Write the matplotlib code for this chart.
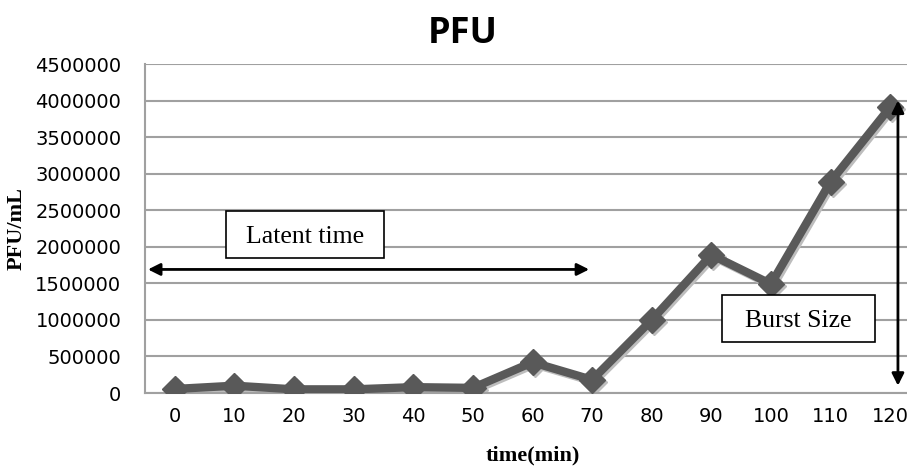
import matplotlib.pyplot as plt
from matplotlib.patches import Rectangle
from matplotlib.transforms import offset_copy

# Data
times = [0, 10, 20, 30, 40, 50, 60, 70, 80, 90, 100, 110, 120]
pfu = [55000, 100000, 50000, 50000, 80000, 70000, 420000, 180000,
       1000000, 1890000, 1490000, 2890000, 3910000]
y_ticks = list(range(0, 4500001, 500000))

fig = plt.figure(figsize=(9.07, 4.69), dpi=100)
ax = fig.add_axes([145 / 907, 76 / 469, 775 / 907, 329 / 469])

pos = list(range(len(times)))

# soft shadow under the series, like the Excel default
shadow = offset_copy(ax.transData, fig=fig, x=2, y=-2, units="dots")
ax.plot(pos, pfu, color="#bdbdbd", lw=6, marker="D", markersize=13,
        transform=shadow, zorder=2)
ax.plot(pos, pfu, color="#595959", lw=6, marker="D", markersize=13, zorder=3)

ax.set_xlim(-0.5, 12.5)
ax.set_ylim(0, 4500000)
ax.set_xticks(pos)
ax.set_xticklabels([str(t) for t in times])
ax.set_yticks(y_ticks)
ax.set_yticklabels([str(v) for v in y_ticks])
ax.tick_params(axis="both", length=0, labelsize=14, colors="black")
ax.tick_params(axis="y", pad=17)
ax.tick_params(axis="x", pad=10)

ax.grid(axis="y", color="#a0a0a0", lw=1.5)
ax.set_axisbelow(True)
for s in ["top", "right"]:
    ax.spines[s].set_visible(False)
ax.spines["left"].set_color("#a0a0a0")
ax.spines["left"].set_linewidth(1.5)
ax.spines["bottom"].set_color("#a0a0a0")
ax.spines["bottom"].set_linewidth(1.5)

fig.text(463 / 907, 1 - 34 / 469, "PFU", ha="center", va="center",
         fontsize=26, fontweight="bold", family="Open Sans")
ax.set_xlabel("time(min)", fontsize=16, fontweight="bold",
              family="Liberation Serif", labelpad=14)
ax.set_ylabel("PFU/mL", fontsize=16, fontweight="bold",
              family="Liberation Serif", labelpad=6)

# Latent time arrow and box
ax.annotate("", xy=(-0.45, 1690000), xytext=(6.95, 1690000),
            arrowprops=dict(arrowstyle="<|-|>", color="black", lw=2,
                            mutation_scale=18, shrinkA=0, shrinkB=0))
ax.add_patch(Rectangle((0.86, 1850000), 2.65, 640000, fc="white",
                       ec="black", lw=1.2, zorder=5))
ax.text(2.18, 2130000, "Latent time", ha="center", va="center",
        fontsize=18.5, family="Liberation Serif", zorder=6)

# Burst size arrow and box
ax.annotate("", xy=(12.13, 4000000), xytext=(12.13, 100000),
            arrowprops=dict(arrowstyle="<|-|>", color="black", lw=2,
                            mutation_scale=18, shrinkA=0, shrinkB=0))
ax.add_patch(Rectangle((9.18, 700000), 2.56, 640000, fc="white",
                       ec="black", lw=1.2, zorder=5))
ax.text(10.46, 985000, "Burst Size", ha="center", va="center",
        fontsize=18.5, family="Liberation Serif", zorder=6)

fig.savefig("out.png", dpi=100)
